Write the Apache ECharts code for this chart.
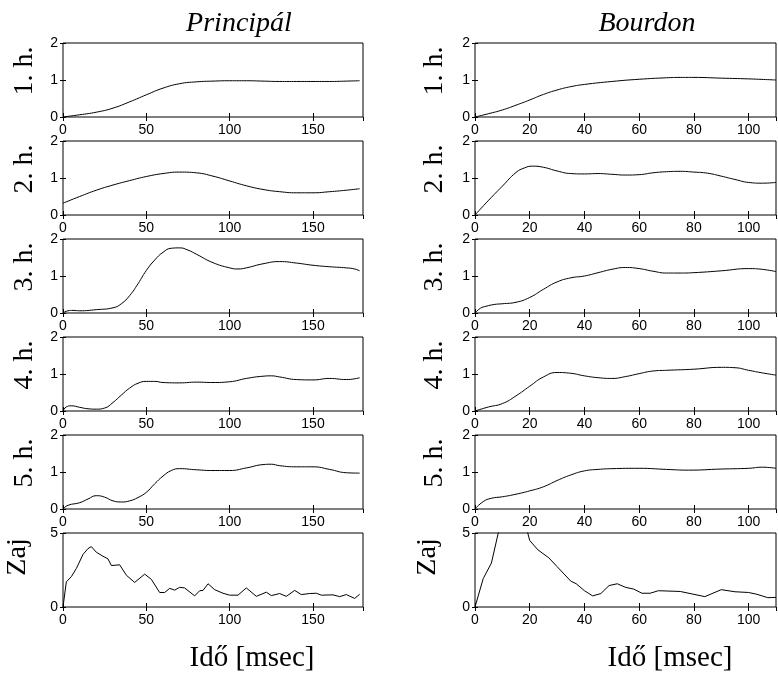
<!DOCTYPE html>
<html>
<head>
<meta charset="utf-8">
<script src="https://cdn.jsdelivr.net/npm/echarts@6/dist/echarts.min.js"></script>
<style>
html, body { margin: 0; padding: 0; background: #fff; }
#main { width: 778px; height: 675px; }
</style>
</head>
<body>
<div id="main"></div>
<script>
var myChart = echarts.init(document.getElementById('main'));

var colTitles = ['Principál', 'Bourdon'];
var rowNames = ['1. h.', '2. h.', '3. h.', '4. h.', '5. h.', 'Zaj'];
var xLabel = 'Idő [msec]';
var xMax = [180, 110];
var xStep = [50, 20];
var yMax = [2, 2, 2, 2, 2, 5];
var yStep = [1, 1, 1, 1, 1, 5];

// Principál
var prin1X = [0, 10, 20, 30, 40, 50, 60, 70, 80, 90, 100, 110, 120, 130, 140, 150, 160, 170, 178];
var prin1Y = [0, 0.06, 0.13, 0.24, 0.41, 0.6, 0.78, 0.9, 0.95, 0.97, 0.98, 0.98, 0.97, 0.96, 0.96, 0.96, 0.96, 0.97, 0.98];
var prin2X = [0, 10, 20, 30, 40, 50, 60, 70, 80, 90, 100, 110, 120, 130, 140, 150, 160, 170, 178];
var prin2Y = [0.32, 0.5, 0.67, 0.81, 0.93, 1.04, 1.12, 1.16, 1.14, 1.05, 0.92, 0.79, 0.69, 0.63, 0.6, 0.6, 0.63, 0.67, 0.71];
var prin3X = [0, 3, 6, 10, 20, 30, 35, 40, 45, 50, 55, 60, 65, 70, 75, 80, 90, 100, 105, 110, 120, 130, 140, 150, 160, 170, 175, 178];
var prin3Y = [0, 0.06, 0.07, 0.06, 0.09, 0.14, 0.25, 0.47, 0.79, 1.15, 1.43, 1.64, 1.75, 1.76, 1.7, 1.59, 1.36, 1.22, 1.19, 1.22, 1.33, 1.39, 1.35, 1.29, 1.25, 1.22, 1.19, 1.14];
var prin4X = [0, 2, 5, 10, 15, 20, 25, 30, 35, 40, 45, 50, 55, 60, 70, 80, 90, 100, 110, 120, 125, 130, 140, 150, 160, 170, 175, 178];
var prin4Y = [0, 0.11, 0.14, 0.1, 0.06, 0.05, 0.08, 0.23, 0.43, 0.62, 0.75, 0.8, 0.8, 0.77, 0.76, 0.78, 0.77, 0.79, 0.88, 0.94, 0.95, 0.92, 0.85, 0.84, 0.88, 0.85, 0.87, 0.9];
var prin5X = [0, 3, 10, 15, 20, 25, 30, 35, 40, 45, 50, 55, 60, 65, 70, 80, 90, 100, 110, 120, 125, 130, 140, 150, 160, 170, 178];
var prin5Y = [0, 0.1, 0.17, 0.27, 0.36, 0.32, 0.22, 0.19, 0.22, 0.31, 0.45, 0.68, 0.89, 1.04, 1.09, 1.06, 1.04, 1.04, 1.11, 1.2, 1.21, 1.17, 1.14, 1.14, 1.07, 0.98, 0.97];
var prinZX = [0, 2, 5, 8, 12, 15, 17, 20, 24, 27, 29, 34, 38, 43, 49, 53, 58, 61, 64, 67, 70, 73, 79, 82, 84, 87, 91, 96, 100, 105, 110, 116, 122, 125, 130, 134, 139, 143, 148, 152, 155, 162, 166, 170, 175, 178];
var prinZY = [0, 1.7, 2.05, 2.6, 3.55, 3.95, 4.08, 3.7, 3.43, 3.25, 2.8, 2.85, 2.15, 1.66, 2.22, 1.87, 0.98, 0.98, 1.26, 1.14, 1.33, 1.29, 0.75, 1.1, 1.12, 1.57, 1.17, 0.93, 0.8, 0.8, 1.29, 0.72, 1.0, 0.77, 0.91, 0.72, 1.12, 0.84, 0.91, 0.93, 0.8, 0.82, 0.7, 0.84, 0.58, 0.86];

// Bourdon
var bour1X = [0, 5, 10, 15, 20, 25, 30, 35, 40, 50, 60, 70, 75, 80, 90, 100, 110];
var bour1Y = [0, 0.09, 0.19, 0.32, 0.46, 0.61, 0.73, 0.82, 0.88, 0.96, 1.02, 1.06, 1.07, 1.07, 1.05, 1.03, 1.0];
var bour2X = [0, 5, 10, 15, 18, 21, 25, 30, 35, 40, 45, 50, 55, 60, 65, 70, 75, 80, 85, 90, 95, 100, 105, 110];
var bour2Y = [0, 0.4, 0.78, 1.15, 1.27, 1.32, 1.29, 1.19, 1.12, 1.11, 1.12, 1.1, 1.08, 1.09, 1.14, 1.17, 1.18, 1.16, 1.13, 1.05, 0.96, 0.88, 0.86, 0.88];
var bour3X = [0, 2, 4, 7, 10, 15, 20, 25, 30, 35, 40, 45, 50, 55, 60, 65, 70, 75, 80, 90, 100, 105, 110];
var bour3Y = [0, 0.13, 0.18, 0.23, 0.25, 0.29, 0.42, 0.64, 0.84, 0.95, 1.0, 1.09, 1.18, 1.23, 1.2, 1.13, 1.08, 1.08, 1.09, 1.14, 1.2, 1.18, 1.12];
var bour4X = [0, 5, 10, 15, 20, 25, 30, 35, 40, 45, 50, 55, 60, 65, 70, 80, 90, 95, 100, 105, 110];
var bour4Y = [0, 0.11, 0.2, 0.41, 0.67, 0.92, 1.04, 1.02, 0.95, 0.9, 0.88, 0.93, 1.01, 1.08, 1.1, 1.13, 1.18, 1.17, 1.1, 1.03, 0.97];
var bour5X = [0, 3, 6, 10, 15, 20, 25, 30, 35, 40, 45, 50, 60, 70, 78, 90, 100, 105, 110];
var bour5Y = [0, 0.2, 0.29, 0.33, 0.4, 0.49, 0.6, 0.77, 0.92, 1.03, 1.07, 1.09, 1.1, 1.07, 1.05, 1.08, 1.1, 1.13, 1.1];
var bourZX = [0, 3, 6, 8.5, 11, 14, 17, 19, 20, 23, 27, 30, 35, 37, 40, 43, 46, 49, 52, 55, 58, 61, 64, 67, 75, 84, 90, 95, 100, 103, 107, 110];
var bourZY = [0, 1.92, 2.97, 5, 6.3, 7, 6.4, 5.2, 4.49, 3.86, 3.32, 2.73, 1.75, 1.57, 1.1, 0.75, 0.91, 1.45, 1.57, 1.33, 1.21, 0.93, 0.93, 1.1, 1.05, 0.7, 1.17, 1.03, 0.98, 0.86, 0.63, 0.65];

var columns = [
    [[prin1X, prin1Y], [prin2X, prin2Y], [prin3X, prin3Y], [prin4X, prin4Y], [prin5X, prin5Y], [prinZX, prinZY]],
    [[bour1X, bour1Y], [bour2X, bour2Y], [bour3X, bour3Y], [bour4X, bour4Y], [bour5X, bour5Y], [bourZX, bourZY]]
];

function pairs(xs, ys) {
    return xs.map(function (x, i) { return [x, ys[i]]; });
}

var tops = [43, 141, 239, 337, 435, 533];
var lefts = [63, 475];
var widths = [300, 301];
var plotH = 74;

var tickFont = { color: '#000', fontFamily: 'Liberation Sans', fontSize: 14 };
var serif = '"Liberation Serif", "DejaVu Serif", serif';

var grids = [], xAxes = [], yAxes = [], series = [], graphics = [];

for (var c = 0; c < 2; c++) {
    for (var r = 0; r < 6; r++) {
        var gi = grids.length;
        grids.push({
            left: lefts[c], top: tops[r], width: widths[c], height: plotH,
            show: true, borderColor: '#000', borderWidth: 1, backgroundColor: 'transparent'
        });
        // bottom x axis with labels, top one only for ticks
        xAxes.push({
            type: 'value', gridIndex: gi, min: 0, max: xMax[c], interval: xStep[c], position: 'bottom',
            axisLine: { show: false },
            axisTick: { inside: true, length: 4, lineStyle: { color: '#000' } },
            axisLabel: Object.assign({ margin: 6, showMaxLabel: false }, tickFont),
            splitLine: { show: false }
        });
        xAxes.push({
            type: 'value', gridIndex: gi, min: 0, max: xMax[c], interval: xStep[c], position: 'top',
            axisLine: { show: false },
            axisTick: { inside: true, length: 4, lineStyle: { color: '#000' } },
            axisLabel: { show: false },
            splitLine: { show: false }
        });
        yAxes.push({
            type: 'value', gridIndex: gi, min: 0, max: yMax[r], interval: yStep[r], position: 'left',
            axisLine: { show: false },
            axisTick: { inside: true, length: 3, lineStyle: { color: '#000' } },
            axisLabel: Object.assign({ margin: 5 }, tickFont),
            splitLine: { show: false }
        });
        yAxes.push({
            type: 'value', gridIndex: gi, min: 0, max: yMax[r], interval: yStep[r], position: 'right',
            axisLine: { show: false },
            axisTick: { inside: true, length: 3, lineStyle: { color: '#000' } },
            axisLabel: { show: false },
            splitLine: { show: false }
        });
        var d = columns[c][r];
        series.push({
            type: 'line',
            xAxisIndex: 2 * gi,
            yAxisIndex: 2 * gi,
            data: pairs(d[0], d[1]),
            showSymbol: false,
            smooth: r < 5 ? 0.5 : false,
            clip: true,
            silent: true,
            lineStyle: { color: '#000', width: 1 }
        });

        // row labels, rotated
        var isZaj = r === 5;
        graphics.push({
            type: 'text',
            x: (isZaj ? 18 : 25) + c * 410,
            y: isZaj ? 557 : tops[r] + 28,
            rotation: Math.PI / 2,
            style: {
                text: rowNames[r], fill: '#000',
                font: '28px ' + serif,
                textAlign: 'center', textVerticalAlign: 'middle'
            }
        });
    }
}

var titleX = [239, 647];
var nameX = [252, 670];
for (var k = 0; k < 2; k++) {
    graphics.push({
        type: 'text', x: titleX[k], y: 24,
        style: { text: colTitles[k], fill: '#000', font: 'italic 28px ' + serif, textAlign: 'center', textVerticalAlign: 'middle' }
    });
    graphics.push({
        type: 'text', x: nameX[k], y: 658,
        style: { text: xLabel, fill: '#000', font: '29px ' + serif, textAlign: 'center', textVerticalAlign: 'middle' }
    });
}

option = {
    animation: false,
    backgroundColor: '#fff',
    grid: grids,
    xAxis: xAxes,
    yAxis: yAxes,
    series: series,
    graphic: graphics
};

myChart.setOption(option);
</script>
</body>
</html>
